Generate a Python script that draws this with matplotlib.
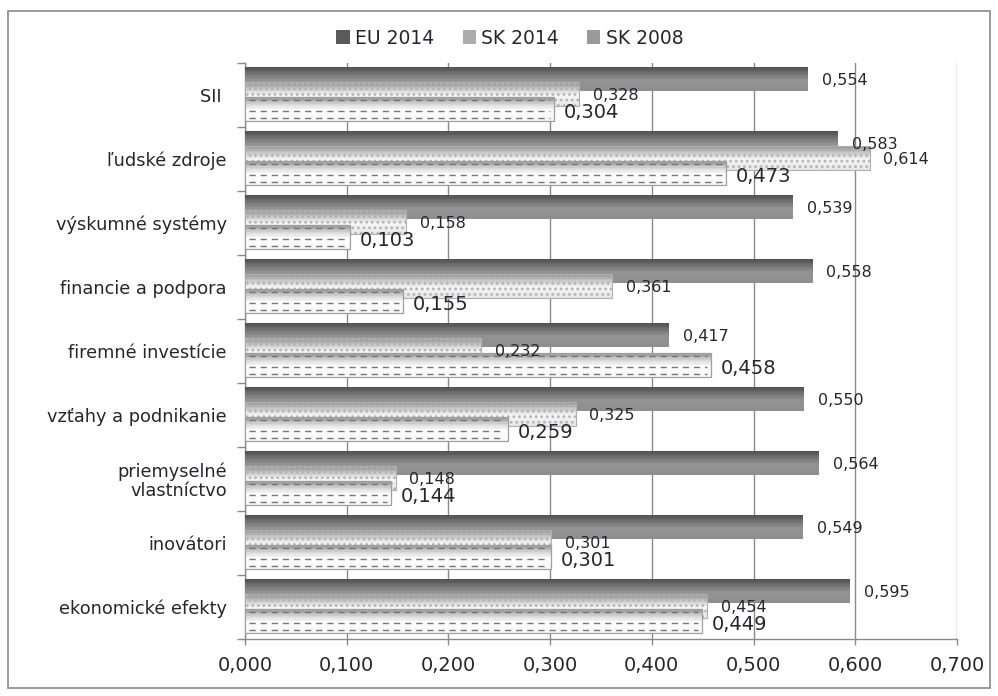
import numpy as np
import matplotlib
matplotlib.use('Agg')
import matplotlib.pyplot as plt
from matplotlib.patches import Patch, Rectangle
from matplotlib.colors import LinearSegmentedColormap

# Innovation scoreboard data
categories = ['SII ', 'ľudské zdroje', 'výskumné systémy', 'financie a podpora',
              'firemné investície', 'vzťahy a podnikanie', 'priemyselné\nvlastníctvo',
              'inovátori', 'ekonomické efekty']
eu_2014 = [0.554, 0.583, 0.539, 0.558, 0.417, 0.550, 0.564, 0.549, 0.595]
sk_2014 = [0.328, 0.614, 0.158, 0.361, 0.232, 0.325, 0.148, 0.301, 0.454]
sk_2008 = [0.304, 0.473, 0.103, 0.155, 0.458, 0.259, 0.144, 0.301, 0.449]
series_names = ['EU 2014', 'SK 2014', 'SK 2008']
x_ticks = [0.0, 0.1, 0.2, 0.3, 0.4, 0.5, 0.6, 0.7]

plt.rcParams['font.family'] = ['DejaVu Sans']
plt.rcParams['hatch.linewidth'] = 1.2
text_color = '#26262e'

# vertical gradients for the pseudo-3D bars (top -> bottom)
eu_cmap = LinearSegmentedColormap.from_list('eu', [(0, '#4e4e4e'), (0.3, '#767676'),
                                                   (0.55, '#939393'), (1, '#8e8e8e')])
sk14_cmap = LinearSegmentedColormap.from_list('sk14', [(0, '#8c8c8c'), (0.3, '#c8c8c8'),
                                                       (0.55, '#f6f6f6'), (1, '#e6e6e6')])
sk08_cmap = LinearSegmentedColormap.from_list('sk08', [(0, '#8e8e8e'), (0.3, '#d8d8d8'),
                                                       (0.55, '#ffffff'), (1, '#f6f6f6')])


def gradient_bar(ax, y, w, h, cmap, z, n=18):
    # stack thin slices from the top edge down; each overlaps the next a bit
    top = y - h / 2
    dh = h / n
    for k in range(n):
        c = cmap((k + 0.5) / n)
        hk = dh * 1.6 if k < n - 1 else dh
        ax.barh(top + k * dh + hk / 2, w, height=hk, color=c, linewidth=0, zorder=z)


fig = plt.figure(figsize=(9.98, 6.96), dpi=100)
fig.patches.append(Rectangle((8 / 998, 8 / 696), 982 / 998, 677 / 696, transform=fig.transFigure,
                             fill=False, edgecolor='#8a8a8a', linewidth=1.2))
ax = fig.add_axes([245 / 998, 1 - 639 / 696, 712 / 998, 576 / 696])

h = 0.38
offsets = [-0.25, -0.02, 0.22]
ypos = np.arange(len(categories))

for i in ypos:
    # EU 2014
    y0 = i + offsets[0]
    gradient_bar(ax, y0, eu_2014[i], h, eu_cmap, 3)
    # SK 2014 dotted
    y1 = i + offsets[1]
    gradient_bar(ax, y1, sk_2014[i], h, sk14_cmap, 4)
    ax.barh(y1, sk_2014[i], height=h, color='none', edgecolor='#b4b4b4', hatch='...',
            linewidth=0, zorder=4.1)
    ax.barh(y1, sk_2014[i], height=h, color='none', edgecolor='#b0b0b0', linewidth=0.8, zorder=4.2)
    # SK 2008 dashed
    y2 = i + offsets[2]
    gradient_bar(ax, y2, sk_2008[i], h, sk08_cmap, 5)
    for f in [-0.36, 0.06, 0.38]:
        ax.hlines(y2 + f * h, 0.004, sk_2008[i] - 0.004, colors='#777777', linewidth=1.0,
                  linestyles=(0, (4.5, 3.5)), zorder=5.1)
    ax.barh(y2, sk_2008[i], height=h, color='none', edgecolor='#a0a0a0', linewidth=0.9, zorder=5.2)

    # value labels
    ax.annotate(f"{eu_2014[i]:.3f}".replace('.', ','), (eu_2014[i], y0 + 0.02),
                xytext=(10, 0), textcoords='offset points', va='center', ha='left',
                fontsize=11.5, color=text_color, zorder=6)
    ax.annotate(f"{sk_2014[i]:.3f}".replace('.', ','), (sk_2014[i], y1 + 0.03),
                xytext=(10, 0), textcoords='offset points', va='center', ha='left',
                fontsize=11.5, color=text_color, zorder=6)
    ax.annotate(f"{sk_2008[i]:.3f}".replace('.', ','), (sk_2008[i], y2 + 0.05),
                xytext=(7, 0), textcoords='offset points', va='center', ha='left',
                fontsize=14, color=text_color, zorder=6)

ax.set_xlim(0, 0.7)
ax.set_ylim(len(categories) - 0.5, -0.5)
ax.set_xticks(x_ticks)
ax.set_xticklabels([f"{t:.3f}".replace('.', ',') for t in x_ticks], fontsize=14, color=text_color)
ax.set_yticks(np.arange(len(categories) + 1) - 0.5)
ax.set_yticklabels([])
ax.set_yticks(ypos, minor=True)
ax.set_yticklabels(categories, minor=True, fontsize=12.8, color=text_color, linespacing=1.05)
ax.tick_params(axis='y', which='minor', length=0, pad=13)
ax.tick_params(axis='y', which='major', length=6, color='#8a8a8a', width=1)
ax.tick_params(axis='x', length=4, color='#8a8a8a', width=1, pad=8)
ax.grid(axis='x', color='#8a8a8a', linewidth=1)
ax.set_axisbelow(True)
for s in ['top', 'right']:
    ax.spines[s].set_visible(False)
for s in ['left', 'bottom']:
    ax.spines[s].set_color('#8a8a8a')
    ax.spines[s].set_linewidth(1)

handles = [Patch(facecolor='#5a5a5a', edgecolor='none'),
           Patch(facecolor='#acacac', edgecolor='none'),
           Patch(facecolor='#9a9a9a', edgecolor='none')]
fig.legend(handles, series_names, loc='center', bbox_to_anchor=(0.511, 1 - 38 / 696), ncol=3,
           frameon=False, fontsize=13.5, handlelength=0.7, handleheight=0.7, handletextpad=0.3,
           columnspacing=1.5, labelcolor=text_color)

fig.savefig('out.png', dpi=100)
